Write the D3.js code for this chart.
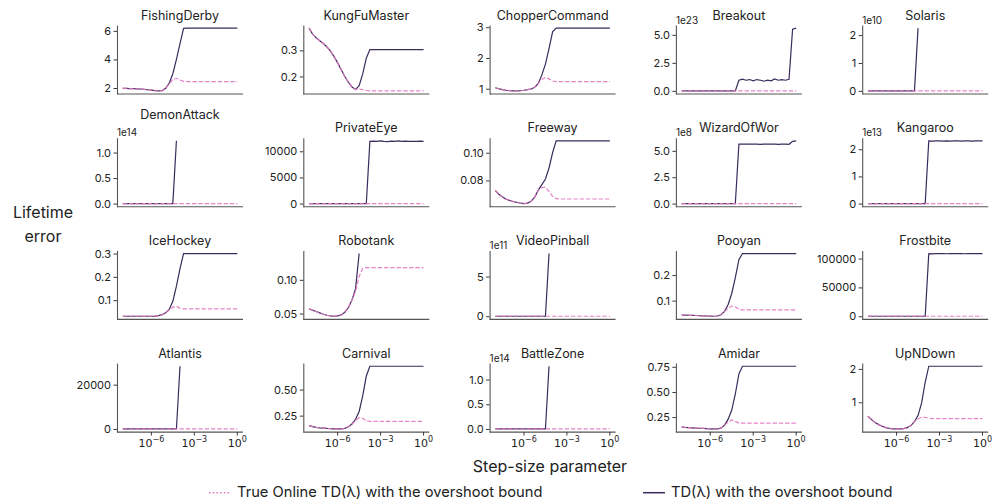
<!DOCTYPE html>
<meta charset="utf-8">
<body style="margin:0;background:#fff">
<svg id="chart" width="994" height="504"></svg>
<script src="https://cdn.jsdelivr.net/npm/d3@7/dist/d3.min.js"></script>
<script>

// ---- data ----
const games = ["FishingDerby", "KungFuMaster", "ChopperCommand", "Breakout", "Solaris",
	"DemonAttack", "PrivateEye", "Freeway", "WizardOfWor", "Kangaroo",
	"IceHockey", "Robotank", "VideoPinball", "Pooyan", "Frostbite",
	"Atlantis", "Carnival", "BattleZone", "Amidar", "UpNDown"];

// log10 of the step-size parameter
const stepExponents = [-8, -7.75, -7.5, -7.25, -7, -6.75, -6.5, -6.25, -6, -5.75, -5.5, -5.25, -5, -4.75, -4.5, -4.25, -4,
	-3.75, -3.5, -3.25, -3, -2.75, -2.5, -2.25, -2, -1.75, -1.5, -1.25, -1, -0.75, -0.5, -0.25, 0];

// TD(lambda) with the overshoot bound (null = diverged)
const tdError = [
	[1.97,1.97,1.96,1.95,1.94,1.93,1.91,1.88,1.85,1.82,1.80,1.82,1.98,2.35,3.00,4.00,5.10,
	 6.18,6.19,6.19,6.19,6.19,6.19,6.19,6.19,6.19,6.19,6.19,6.19,6.19,6.19,6.19,6.19],
	[0.385,0.362,0.348,0.337,0.326,0.313,0.297,0.276,0.252,0.226,0.200,0.178,0.160,0.150,0.165,0.210,0.270,
	 0.303,0.303,0.303,0.303,0.303,0.303,0.303,0.303,0.303,0.303,0.303,0.303,0.303,0.303,0.303,0.303],
	[1.03,1.00,0.97,0.95,0.94,0.93,0.93,0.935,0.95,0.97,0.99,1.05,1.17,1.45,1.80,2.30,2.85,
	 2.97,2.97,2.97,2.97,2.97,2.97,2.97,2.97,2.97,2.97,2.97,2.97,2.97,2.97,2.97,2.97],
	[0,0,0,0,0,0,0,0,0,0,0,0,0,0,0,0,0.95e23,
	 1.04e23,0.95e23,1.01e23,0.89e23,1.01e23,0.95e23,0.86e23,0.95e23,0.89e23,1.07e23,0.95e23,1.01e23,0.95e23,1.04e23,5.5e23,5.6e23],
	[0,0,0,0,0,0,0,0,0,0,0,0,0,0,2.25e10,null,null,
	 null,null,null,null,null,null,null,null,null,null,null,null,null,null,null,null],
	[0,0,0,0,0,0,0,0,0,0,0,0,0,0,0,1.23e14,null,
	 null,null,null,null,null,null,null,null,null,null,null,null,null,null,null,null],
	[0,0,0,0,0,0,0,0,0,0,0,0,0,0,0,0,0,
	 11900,11950,11880,12000,11900,11850,11950,11900,12000,11880,11950,11900,11920,11880,11950,11900],
	[0.0727,0.0700,0.0680,0.0665,0.0655,0.0648,0.0642,0.0637,0.0633,0.0636,0.0650,0.0680,0.0730,0.0770,0.0810,0.0890,0.1000,
	 0.1086,0.1086,0.1086,0.1086,0.1086,0.1086,0.1086,0.1086,0.1086,0.1086,0.1086,0.1086,0.1086,0.1086,0.1086,0.1086],
	[0,0,0,0,0,0,0,0,0,0,0,0,0,0,0,0,5.64e8,
	 5.63e8,5.64e8,5.65e8,5.63e8,5.64e8,5.62e8,5.64e8,5.65e8,5.63e8,5.64e8,5.62e8,5.63e8,5.64e8,5.62e8,5.90e8,5.95e8],
	[0,0,0,0,0,0,0,0,0,0,0,0,0,0,0,0,0,
	 2.31e13,2.30e13,2.31e13,2.31e13,2.30e13,2.31e13,2.30e13,2.31e13,2.31e13,2.30e13,2.31e13,2.31e13,2.30e13,2.31e13,2.31e13,2.31e13],
	[0.031,0.031,0.031,0.031,0.031,0.031,0.031,0.031,0.031,0.032,0.034,0.038,0.046,0.060,0.095,0.160,0.235,
	 0.300,0.300,0.300,0.300,0.300,0.300,0.300,0.300,0.300,0.300,0.300,0.300,0.300,0.300,0.300,0.300],
	[0.057,0.055,0.053,0.051,0.049,0.0475,0.0465,0.046,0.0465,0.048,0.052,0.059,0.070,0.087,0.139,null,null,
	 null,null,null,null,null,null,null,null,null,null,null,null,null,null,null,null],
	[0,0,0,0,0,0,0,0,0,0,0,0,0,0,0,7.9e11,null,
	 null,null,null,null,null,null,null,null,null,null,null,null,null,null,null,null],
	[0.044,0.0435,0.043,0.0425,0.042,0.041,0.0405,0.040,0.0395,0.039,0.040,0.045,0.058,0.085,0.128,0.190,0.260,
	 0.284,0.284,0.284,0.284,0.284,0.284,0.284,0.284,0.284,0.284,0.284,0.284,0.284,0.284,0.284,0.284],
	[0,0,0,0,0,0,0,0,0,0,0,0,0,0,0,0,0,
	 108500,108200,108700,108400,108600,108300,108700,108500,108400,108600,108300,108500,108700,108400,108500,108600],
	[0,0,0,0,0,0,0,0,0,0,0,0,0,0,0,0,28300,
	 null,null,null,null,null,null,null,null,null,null,null,null,null,null,null,null],
	[0.154,0.145,0.138,0.133,0.130,0.127,0.125,0.123,0.122,0.122,0.128,0.143,0.170,0.215,0.290,0.440,0.630,
	 0.724,0.724,0.724,0.724,0.724,0.724,0.724,0.724,0.724,0.724,0.724,0.724,0.724,0.724,0.724,0.724],
	[0,0,0,0,0,0,0,0,0,0,0,0,0,0,0,1.27e14,null,
	 null,null,null,null,null,null,null,null,null,null,null,null,null,null,null,null],
	[0.150,0.147,0.145,0.143,0.141,0.139,0.137,0.135,0.133,0.132,0.132,0.140,0.170,0.230,0.320,0.480,0.680,
	 0.756,0.756,0.756,0.756,0.756,0.756,0.756,0.756,0.756,0.756,0.756,0.756,0.756,0.756,0.756,0.756],
	[0.58,0.48,0.39,0.33,0.28,0.24,0.215,0.20,0.20,0.20,0.21,0.24,0.30,0.42,0.60,0.98,1.60,
	 2.08,2.08,2.08,2.08,2.08,2.08,2.08,2.08,2.08,2.08,2.08,2.08,2.08,2.08,2.08,2.08]
];

// True Online TD(lambda) with the overshoot bound
const trueOnlineError = [
	[1.97,1.97,1.96,1.95,1.94,1.93,1.91,1.88,1.85,1.82,1.80,1.82,1.98,2.30,2.60,2.68,2.55,
	 2.47,2.45,2.45,2.45,2.45,2.45,2.45,2.45,2.45,2.45,2.45,2.45,2.45,2.45,2.45,2.45],
	[0.385,0.362,0.348,0.337,0.326,0.313,0.297,0.276,0.252,0.226,0.200,0.178,0.160,0.150,0.152,0.150,0.147,
	 0.145,0.145,0.145,0.145,0.145,0.145,0.145,0.145,0.145,0.145,0.145,0.145,0.145,0.145,0.145,0.145],
	[1.03,1.00,0.97,0.95,0.94,0.93,0.93,0.935,0.95,0.97,0.99,1.05,1.17,1.30,1.37,1.32,1.25,
	 1.23,1.23,1.23,1.23,1.23,1.23,1.23,1.23,1.23,1.23,1.23,1.23,1.23,1.23,1.23,1.23],
	[0,0,0,0,0,0,0,0,0,0,0,0,0,0,0,0,0,
	 0,0,0,0,0,0,0,0,0,0,0,0,0,0,0,0],
	[0,0,0,0,0,0,0,0,0,0,0,0,0,0,0,0,0,
	 0,0,0,0,0,0,0,0,0,0,0,0,0,0,0,0],
	[0,0,0,0,0,0,0,0,0,0,0,0,0,0,0,0,0,
	 0,0,0,0,0,0,0,0,0,0,0,0,0,0,0,0],
	[0,0,0,0,0,0,0,0,0,0,0,0,0,0,0,0,0,
	 0,0,0,0,0,0,0,0,0,0,0,0,0,0,0,0],
	[0.0727,0.0700,0.0680,0.0665,0.0655,0.0648,0.0642,0.0637,0.0633,0.0636,0.0650,0.0680,0.0730,0.0748,0.0752,0.0720,0.0685,
	 0.0668,0.0666,0.0666,0.0666,0.0666,0.0666,0.0666,0.0666,0.0666,0.0666,0.0666,0.0666,0.0666,0.0666,0.0666,0.0666],
	[0,0,0,0,0,0,0,0,0,0,0,0,0,0,0,0,0,
	 0,0,0,0,0,0,0,0,0,0,0,0,0,0,0,0],
	[0,0,0,0,0,0,0,0,0,0,0,0,0,0,0,0,0,
	 0,0,0,0,0,0,0,0,0,0,0,0,0,0,0,0],
	[0.031,0.031,0.031,0.031,0.031,0.031,0.031,0.031,0.031,0.032,0.034,0.038,0.046,0.058,0.070,0.074,0.066,
	 0.063,0.063,0.063,0.063,0.063,0.063,0.063,0.063,0.063,0.063,0.063,0.063,0.063,0.063,0.063,0.063],
	[0.057,0.055,0.053,0.051,0.049,0.0475,0.0465,0.046,0.0465,0.048,0.052,0.059,0.070,0.083,0.105,0.117,0.118,
	 0.118,0.118,0.118,0.118,0.118,0.118,0.118,0.118,0.118,0.118,0.118,0.118,0.118,0.118,0.118,0.118],
	[0,0,0,0,0,0,0,0,0,0,0,0,0,0,0,0,0,
	 0,0,0,0,0,0,0,0,0,0,0,0,0,0,0,0],
	[0.044,0.0435,0.043,0.0425,0.042,0.041,0.0405,0.040,0.0395,0.039,0.040,0.045,0.058,0.070,0.079,0.076,0.066,
	 0.064,0.064,0.064,0.064,0.064,0.064,0.064,0.064,0.064,0.064,0.064,0.064,0.064,0.064,0.064,0.064],
	[0,0,0,0,0,0,0,0,0,0,0,0,0,0,0,0,0,
	 0,0,0,0,0,0,0,0,0,0,0,0,0,0,0,0],
	[0,0,0,0,0,0,0,0,0,0,0,0,0,0,0,0,0,
	 0,0,0,0,0,0,0,0,0,0,0,0,0,0,0,0],
	[0.154,0.145,0.138,0.133,0.130,0.127,0.125,0.123,0.122,0.122,0.128,0.143,0.170,0.200,0.230,0.225,0.200,
	 0.195,0.195,0.195,0.195,0.195,0.195,0.195,0.195,0.195,0.195,0.195,0.195,0.195,0.195,0.195,0.195],
	[0,0,0,0,0,0,0,0,0,0,0,0,0,0,0,0,0,
	 0,0,0,0,0,0,0,0,0,0,0,0,0,0,0,0],
	[0.150,0.147,0.145,0.143,0.141,0.139,0.137,0.135,0.133,0.132,0.132,0.140,0.170,0.200,0.222,0.205,0.192,
	 0.190,0.190,0.190,0.190,0.190,0.190,0.190,0.190,0.190,0.190,0.190,0.190,0.190,0.190,0.190,0.190],
	[0.58,0.48,0.39,0.33,0.28,0.24,0.215,0.20,0.20,0.20,0.21,0.24,0.30,0.42,0.50,0.55,0.55,
	 0.52,0.51,0.51,0.51,0.51,0.51,0.51,0.51,0.51,0.51,0.51,0.51,0.51,0.51,0.51,0.51]
];

// y tick values (in displayed units), offset exponent and decimals per panel
const yTicks = [[2, 4, 6], [0.2, 0.3], [1, 2, 3], [0, 2.5, 5], [0, 1, 2],
	[0, 0.5, 1], [0, 5000, 10000], [0.08, 0.10], [0, 2.5, 5], [0, 1, 2],
	[0.1, 0.2, 0.3], [0.05, 0.10], [0, 5], [0.1, 0.2], [0, 50000, 100000],
	[0, 20000], [0.25, 0.50], [0, 0.5, 1], [0.25, 0.50, 0.75], [1, 2]];
const yOffsetExp = [0, 0, 0, 23, 10, 14, 0, 0, 8, 13, 0, 0, 11, 0, 0, 0, 0, 14, 0, 0];
const yDecimals = [0, 1, 0, 1, 0, 1, 0, 2, 1, 0, 1, 2, 0, 1, 0, 0, 2, 1, 2, 0];
const xTickExponents = [-6, -3, 0];

const seriesNames = ["True Online TD(λ) with the overshoot bound", "TD(λ) with the overshoot bound"];

// ---- layout ----
var nCols = 5,
	panelW = 126,
	panelH = 69;
var left0 = 117, colStep = 186.3,
	top0 = 25, rowStep = 112.7;
var darkColor = "#3b2b5c",
	pinkColor = "#e377c2";
var uiFont = "Inter, 'Open Sans', sans-serif";
var raisedTitles = ["DemonAttack"];

var svg = d3.select("#chart");

var x = d3.scaleLog()
	.domain([Math.pow(10, -8.4), Math.pow(10, 0.4)])
	.range([0, panelW]);

games.forEach(function (name, k) {
	const col = k % nCols,
		row = Math.floor(k / nCols);
	const g = svg.append("g")
		.attr("transform", "translate(" + (left0 + col * colStep) + "," + (top0 + row * rowStep) + ")");

	const all = tdError[k].concat(trueOnlineError[k]).filter(v => v != null);
	const lo = d3.min(all), hi = d3.max(all), pad = (hi - lo) * 0.05;
	const y = d3.scaleLinear().domain([lo - pad, hi + pad]).range([panelH, 0]);

	const scale = Math.pow(10, yOffsetExp[k]);
	const yAxis = d3.axisLeft(y)
		.tickValues(yTicks[k].map(t => t * scale))
		.tickSize(3.5)
		.tickSizeOuter(0)
		.tickPadding(2.5)
		.tickFormat(v => (v / scale).toFixed(yDecimals[k]));
	const ya = g.append("g").call(yAxis);
	ya.select(".domain").attr("stroke", "#555").attr("stroke-width", 1.1);
	ya.selectAll(".tick line").attr("stroke", "#222").attr("stroke-width", 0.9);
	ya.selectAll(".tick text").attr("fill", "#222")
		.style("font-family", uiFont).style("font-size", "11px");

	// bottom spine
	g.append("line")
		.attr("x1", 0).attr("x2", panelW)
		.attr("y1", panelH).attr("y2", panelH)
		.attr("stroke", "#555").attr("stroke-width", 1.1);

	if (row === 3) {
		xTickExponents.forEach(function (e) {
			const px = x(Math.pow(10, e));
			g.append("line")
				.attr("x1", px).attr("x2", px)
				.attr("y1", panelH).attr("y2", panelH + 3.5)
				.attr("stroke", "#222").attr("stroke-width", 0.9);
			const t = g.append("text")
				.attr("x", px).attr("y", panelH + 14.5)
				.attr("text-anchor", "middle")
				.attr("fill", "#222")
				.style("font-family", "'DejaVu Sans', sans-serif")
				.style("font-size", "11px");
			t.append("tspan").text("10");
			t.append("tspan").attr("dy", -5).style("font-size", "8px")
				.text(e === 0 ? "0" : "\u2212" + Math.abs(e));
		});
	}

	const line = d3.line()
		.defined(d => d[1] != null)
		.x(d => x(Math.pow(10, d[0])))
		.y(d => y(d[1]));

	g.append("path")
		.datum(stepExponents.map((e, i) => [e, tdError[k][i]]))
		.attr("fill", "none")
		.attr("stroke", darkColor)
		.attr("stroke-width", 1.2)
		.attr("d", line);

	g.append("path")
		.datum(stepExponents.map((e, i) => [e, trueOnlineError[k][i]]))
		.attr("fill", "none")
		.attr("stroke", pinkColor)
		.attr("stroke-width", 1.2)
		.attr("stroke-dasharray", "4.4,1.9")
		.attr("opacity", 0.9)
		.attr("d", line);

	// offset text
	if (yOffsetExp[k] > 0) {
		g.append("text")
			.attr("x", 0).attr("y", -1.5)
			.attr("fill", "#222")
			.style("font-family", uiFont).style("font-size", "10px")
			.text("1e" + yOffsetExp[k]);
	}

	g.append("text")
		.attr("x", panelW / 2)
		.attr("y", raisedTitles.includes(name) ? -18.5 : -5.5)
		.attr("text-anchor", "middle")
		.attr("fill", "#222")
		.style("font-family", uiFont).style("font-size", "12.5px")
		.text(name);
});

// axis labels
svg.append("text")
	.attr("x", 43).attr("y", 218)
	.attr("text-anchor", "middle").attr("fill", "#222")
	.style("font-family", uiFont).style("font-size", "16px")
	.text("Lifetime");
svg.append("text")
	.attr("x", 43).attr("y", 242)
	.attr("text-anchor", "middle").attr("fill", "#222")
	.style("font-family", uiFont).style("font-size", "16px")
	.text("error");
svg.append("text")
	.attr("x", 550).attr("y", 472)
	.attr("text-anchor", "middle").attr("fill", "#222")
	.style("font-family", uiFont).style("font-size", "16px")
	.text("Step-size parameter");

// legend
var legendY = 492.7;
var legendItems = [
	{x: 209, color: pinkColor, dash: "1.5,2.2", label: seriesNames[0]},
	{x: 643, color: darkColor, dash: null, label: seriesNames[1]}
];
legendItems.forEach(function (item) {
	svg.append("line")
		.attr("x1", item.x).attr("x2", item.x + 22)
		.attr("y1", legendY).attr("y2", legendY)
		.attr("stroke", item.color).attr("stroke-width", 1.5)
		.attr("stroke-dasharray", item.dash);
	svg.append("text")
		.attr("x", item.x + 28).attr("y", legendY + 4.5)
		.attr("fill", "#222")
		.style("font-family", uiFont).style("font-size", "14.7px")
		.text(item.label);
});
</script>
</body>
